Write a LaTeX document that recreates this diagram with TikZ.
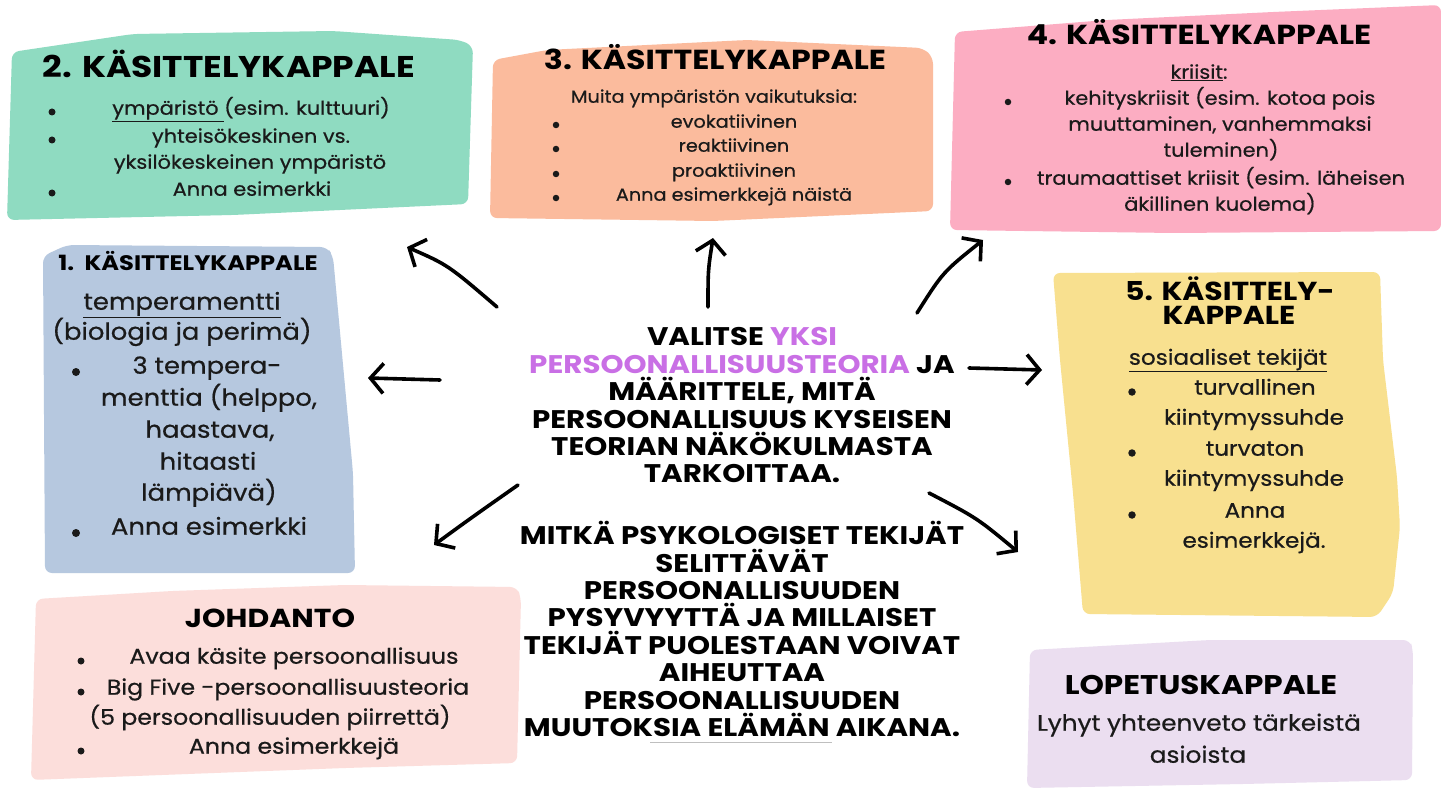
\documentclass[tikz,border=0pt]{standalone}
\usepackage{fontspec}
\setmainfont[FakeStretch=1.1,FakeBold=0.6]{Poppins}
\newfontfamily\hfont[FakeStretch=1.15]{Poppins}
\usetikzlibrary{arrows.meta}
\definecolor{cgreen}{HTML}{8FDBC1}
\definecolor{corange}{HTML}{FBBB9D}
\definecolor{cpink}{HTML}{FCADC2}
\definecolor{cblue}{HTML}{B6C8DF}
\definecolor{cyellow}{HTML}{F8E08F}
\definecolor{crose}{HTML}{FCDEDB}
\definecolor{clilac}{HTML}{EBDEF0}
\definecolor{cpurple}{HTML}{C96FE5}
\definecolor{ink}{HTML}{1A1A1A}
\begin{document}
\begin{tikzpicture}[x=1pt,y=-1pt,
  hd/.style={font=\hfont\bfseries\fontsize{#1}{#1}\selectfont, inner sep=0pt, anchor=mid, text=black},
  tx/.style={font=\fontsize{#1}{#1}\selectfont, inner sep=0pt, anchor=mid, text=ink},
  dot/.style={circle, fill=ink, inner sep=0pt, minimum size=#1},
  ctr/.style={font=\hfont\bfseries\fontsize{25.5}{27.4}\selectfont, inner sep=0pt, align=center, text=black},
  paper/.style={rounded corners=7pt},
  arr/.style={line width=3.6pt, line cap=round, line join=round, -{Straight Barb[length=13pt,width=30pt]}}
]
\useasboundingbox (0,0) rectangle (1441,789);
\fill[white] (0,0) rectangle (1441,789);

% ---------- boxes ----------
\fill[cgreen,paper] (12,52) -- (133,34) -- (333,31) -- (460,40) -- (473,46) -- (468,204) -- (233,215) -- (7,220) -- cycle;
\fill[corange,paper] (493,60) -- (547,50) -- (747,40) -- (923,48) -- (933,57) -- (933,211) -- (713,221) -- (490,218) -- cycle;
\fill[cpink,paper] (955,32) -- (1107,20) -- (1273,12) -- (1441,5) -- (1441,231) -- (1173,233) -- (950,230) -- cycle;
\fill[cblue,paper] (43,256) -- (67,245) -- (327,247) -- (333,256) -- (353,473) -- (355,573) -- (45,573) -- cycle;
\fill[cyellow,paper] (1053,273) -- (1380,272) -- (1383,360) -- (1397,477) -- (1400,527) -- (1393,593) -- (1377,617) -- (1083,614) -- (1073,493) -- (1060,360) -- cycle;
\fill[crose,paper] (36,599) -- (172,591) -- (345,585) -- (517,587) -- (521,598) -- (517,763) -- (345,768) -- (31,780) -- cycle;
\fill[clilac,paper] (1030,650) -- (1210,640) -- (1410,640) -- (1413,650) -- (1412,780) -- (1243,784) -- (1027,788) -- cycle;

% ---------- 2. ----------
\node[hd=30] (gh) at (229,75) {2. KÄSITTELYKAPPALE};
\node[dot=7pt] (gb1) at (52,112) {};
\node[dot=7pt] (gb2) at (52,140) {};
\node[dot=7pt] (gb3) at (52,193) {};
\node[tx=19] (g1) at (251,112) {\underline{ympäristö }(esim. kulttuuri)};
\node[tx=19] (g2) at (251,140) {yhteisökeskinen vs.};
\node[tx=19] (g3) at (250,166) {yksilökeskeinen ympäristö};
\node[tx=19] (g4) at (252,193) {Anna esimerkki};

% ---------- 3. ----------
\node[hd=27.5] (oh) at (715,67) {3. KÄSITTELYKAPPALE};
\node[tx=17.5] (o1) at (714,100) {Muita ympäristön vaikutuksia:};
\node[dot=6.5pt] (ob1) at (556,125) {};
\node[dot=6.5pt] (ob2) at (556,149) {};
\node[dot=6.5pt] (ob3) at (556,174) {};
\node[dot=6.5pt] (ob4) at (556,198) {};
\node[tx=17.5] (o2) at (734,125) {evokatiivinen};
\node[tx=17.5] (o3) at (734,149) {reaktiivinen};
\node[tx=17.5] (o4) at (734,174) {proaktiivinen};
\node[tx=17.5] (o5) at (734,198) {Anna esimerkkejä näistä};

% ---------- 4. ----------
\node[hd=27.5] (ph) at (1199,42) {4. KÄSITTELYKAPPALE};
\node[tx=19] (p1) at (1199,76) {\underline{kriisit}:};
\node[dot=6.5pt] (pb1) at (1008,102) {};
\node[dot=6.5pt] (pb2) at (1008,182) {};
\node[tx=19] (p2) at (1220,102) {kehityskriisit (esim. kotoa pois};
\node[tx=19] (p3) at (1220,128) {muuttaminen, vanhemmaksi};
\node[tx=19] (p4) at (1221,154) {tuleminen)};
\node[tx=19] (p5) at (1221,182) {traumaattiset kriisit (esim. läheisen};
\node[tx=19] (p6) at (1220,208) {äkillinen kuolema)};

% ---------- 1. ----------
\node[hd=21] (bh) at (188,268) {1.\ \ KÄSITTELYKAPPALE};
\node[tx=23.5] (b1) at (182,307) {\underline{temperamentti}};
\node[tx=23.5] (b2) at (182,337) {(biologia ja perimä)};
\node[dot=8pt] (bb1) at (76,372) {};
\node[dot=8pt] (bb2) at (76,533) {};
\node[tx=23.5] (b3) at (207,371) {3 tempera-};
\node[tx=23.5] (b4) at (209,403) {menttia (helppo,};
\node[tx=23.5] (b5) at (210,435) {haastava,};
\node[tx=23.5] (b6) at (208,467) {hitaasti};
\node[tx=23.5] (b7) at (209,498) {lämpiävä)};
\node[tx=23.5] (b8) at (209,532) {Anna esimerkki};

% ---------- 5. ----------
\node[hd=26] (yh1) at (1230,298) {5. KÄSITTELY-};
\node[hd=26] (yh2) at (1229,322) {KAPPALE};
\node[tx=21] (y1) at (1228,362) {\underline{sosiaaliset tekijät}};
\node[dot=7.5pt] (yb1) at (1132,392) {};
\node[dot=7.5pt] (yb2) at (1132,453) {};
\node[dot=7.5pt] (yb3) at (1132,515) {};
\node[tx=21] (y2) at (1255,392) {turvallinen};
\node[tx=21] (y3) at (1254,422) {kiintymyssuhde};
\node[tx=21] (y4) at (1255,453) {turvaton};
\node[tx=21] (y5) at (1254,483) {kiintymyssuhde};
\node[tx=21] (y6) at (1255,515) {Anna};
\node[tx=21] (y7) at (1254,545) {esimerkkejä.};

% ---------- JOHDANTO ----------
\node[hd=26] (jh) at (270,625) {JOHDANTO};
\node[dot=7pt] (jb1) at (81,661) {};
\node[dot=7pt] (jb2) at (81,692) {};
\node[dot=7pt] (jb3) at (81,751) {};
\node[tx=21.5] (j1) at (294,661) {Avaa käsite persoonallisuus};
\node[tx=21.5] (j2) at (288,692) {Big Five -persoonallisuusteoria};
\node[tx=21.5] (j3) at (270,722) {(5 persoonallisuuden piirrettä)};
\node[tx=21.5] (j4) at (294,751) {Anna esimerkkejä};

% ---------- LOPETUS ----------
\node[hd=27] (lh) at (1201,692) {LOPETUSKAPPALE};
\node[tx=22.5] (l1) at (1199,728) {Lyhyt yhteenveto tärkeistä};
\node[tx=22.5] (l2) at (1198,760) {asioista};

% ---------- centre ----------
\node[ctr] (c1) at (742,405.5) {VALITSE \textcolor{cpurple}{YKSI}\\
\textcolor{cpurple}{PERSOONALLISUUSTEORIA} JA\\
MÄÄRITTELE, MITÄ\\
PERSOONALLISUUS KYSEISEN\\
TEORIAN NÄKÖKULMASTA\\
TARKOITTAA.};
\node[ctr] (c2) at (742,629) {MITKÄ PSYKOLOGISET TEKIJÄT\\
SELITTÄVÄT\\
PERSOONALLISUUDEN\\
PYSYVYYTTÄ JA MILLAISET\\
TEKIJÄT PUOLESTAAN VOIVAT\\
AIHEUTTAA\\
PERSOONALLISUUDEN\\
MUUTOKSIA ELÄMÄN AIKANA.};
\draw[black!25, line width=0.6pt] (650,742) -- (832,742);

% ---------- arrows ----------
\coordinate (t1) at (497,307); \coordinate (h1) at (407,247);
\coordinate (t2) at (708,307); \coordinate (h2) at (713,238);
\coordinate (t3) at (917,313); \coordinate (h3) at (983,240);
\coordinate (t4) at (440,380); \coordinate (h4) at (368,378);
\coordinate (t5) at (969,368); \coordinate (h5) at (1042,370);
\coordinate (t6) at (518,485); \coordinate (h6) at (434,545);
\coordinate (t7) at (929,493); \coordinate (h7) at (1018,552);
\draw[arr] (t1) .. controls (448,265) .. (h1);
\draw[arr] (t2) .. controls (708,270) .. (h2);
\draw[arr] (t3) .. controls (943,272) .. (h3);
\draw[arr] (t4) -- (h4);
\draw[arr] (t5) -- (h5);
\draw[arr] (t6) .. controls (471,518) .. (h6);
\draw[arr] (t7) .. controls (977,518) .. (h7);
\end{tikzpicture}
\end{document}
